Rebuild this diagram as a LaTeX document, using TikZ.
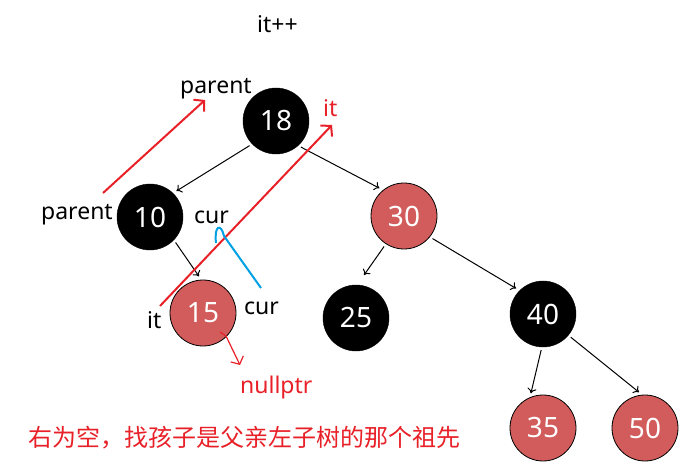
\documentclass[tikz,border=0pt]{standalone}
\usepackage{fontspec}
\setmainfont{Noto Sans}
\newfontfamily\cjk{Noto Sans CJK SC}
\usetikzlibrary{arrows.meta}
\definecolor{myred}{RGB}{232,32,40}
\definecolor{nodered}{RGB}{209,92,91}
\definecolor{myblue}{RGB}{0,160,228}

\begin{document}
\begin{tikzpicture}[x=1pt,y=-1pt,
    blacknode/.style={circle,draw=black,fill=black,text=white,inner sep=0pt,minimum size=66pt,font=\fontsize{28}{28}\selectfont},
    rednode/.style={circle,draw=black,line width=0.8pt,fill=nodered,text=white,inner sep=0pt,minimum size=66pt,font=\fontsize{28}{28}\selectfont},
    lbl/.style={anchor=base west,inner sep=0pt,font=\fontsize{23}{23}\selectfont},
    edge/.style={-{To[length=5pt,width=9pt]},shorten <=3pt,shorten >=4pt,line width=1pt},
    redarrow/.style={-{Straight Barb[length=7pt,width=16pt]},myred,line width=2pt}]
    \useasboundingbox (0,0) rectangle (689,468);
    % tree
    \node[blacknode] (n18) at (276,121) {18};
    \node[blacknode] (n10) at (150,217) {10};
    \node[rednode] (n30) at (404,216) {30};
    \node[rednode] (n15) at (203,313) {15};
    \node[blacknode] (n25) at (356,318) {25};
    \node[blacknode] (n40) at (543,314) {40};
    \node[rednode] (n35) at (543,428) {35};
    \node[rednode] (n50) at (645,428) {50};
    \draw[edge] (n18.224) -- (n10.46);
    \draw[edge] (n18.312) -- (n30.129);
    \draw[edge] (n10.316) -- (n15.93);
    \draw[edge,shorten >=12pt] (n30.237) -- (n25.88);
    \draw[edge] (n30.321) -- (n40.135);
    \draw[edge] (n40.268) -- (n35.113);
    \draw[edge] (n40.320) -- (n50.95);
    % labels
    \node[lbl] (step) at (257,33) {it++};
    \node[lbl] (par1) at (180,94) {parent};
    \node[lbl] (par2) at (41,220) {parent};
    \node[lbl] (cur1) at (194,224) {cur};
    \node[lbl,text=myred] (it1) at (323,117) {it};
    \node[lbl] (it2) at (147,328) {it};
    \node[lbl] (cur2) at (244,315) {cur};
    \node[lbl,text=myred] (null) at (240,393) {nullptr};
    \node[anchor=west,inner sep=0pt,text=myred,font=\cjk\fontsize{24}{24}\selectfont] (note) at (28,438) {右为空，找孩子是父亲左子树的那个祖先};
    % moves
    \coordinate (parfrom) at (103,193);
    \coordinate (parto) at (205,100);
    \coordinate (itfrom) at (160,306);
    \coordinate (itto) at (332,125);
    \coordinate (nullfrom) at (220,332);
    \coordinate (nullto) at (240,365);
    \coordinate (curfrom) at (261,288);
    \coordinate (curto) at (216,243);
    \draw[redarrow] (parfrom) -- (parto);
    \draw[redarrow] (itfrom) -- (itto);
    \draw[myred,line width=1.2pt,-{Straight Barb[length=6pt,width=14pt]}] (nullfrom) -- (226,336) -- (nullto);
    \draw[myblue,line width=2pt] (curfrom) -- (224,236) .. controls (221,223) and (214,225) .. (curto);
\end{tikzpicture}
\end{document}
